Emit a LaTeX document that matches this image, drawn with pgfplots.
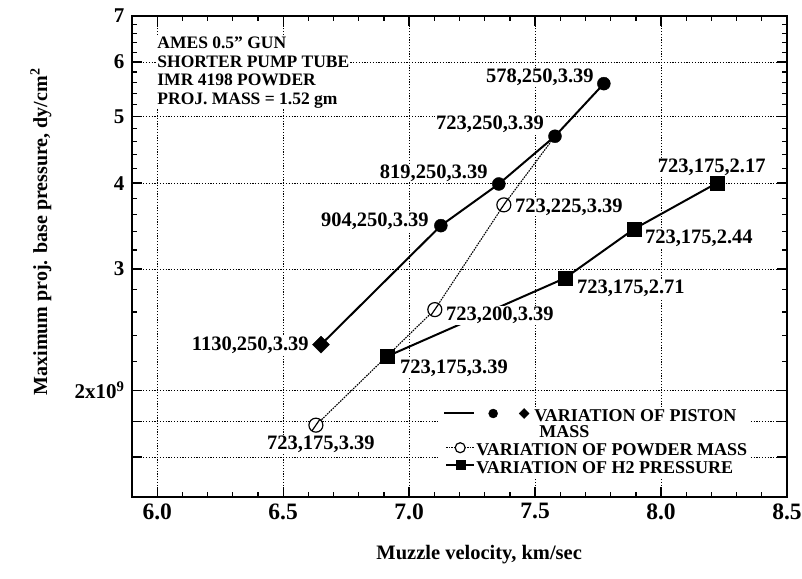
\documentclass[border=0pt]{standalone}
\usepackage{fontspec}
\setmainfont{Liberation Serif}
\newfontfamily\legbf{Liberation Serif Bold}
\usepackage{pgfplots}
\pgfplotsset{compat=1.18}
\pgfdeclareplotmark{oslash}{%
  \pgfpathcircle{\pgfpointorigin}{\pgfplotmarksize}%
  \pgfusepathqfillstroke
  \pgfpathmoveto{\pgfpoint{-0.55\pgfplotmarksize}{-0.8\pgfplotmarksize}}%
  \pgfpathlineto{\pgfpoint{0.55\pgfplotmarksize}{0.8\pgfplotmarksize}}%
  \pgfusepathqstroke}
\newcommand{\lbl}{\fontsize{20.5}{20.5}\selectfont\bfseries}
\begin{document}
\begin{tikzpicture}
\begin{axis}[
  scale only axis, width=655pt, height=481pt,
  xmin=5.9, xmax=8.5, ymode=log, ymin=1.4e9, ymax=7e9,
  xtick={6,6.5,7,7.5,8,8.5}, xticklabels={6.0,6.5,7.0,7.5,8.0,8.5},
  minor x tick num=4,
  ytick={2e9,3e9,4e9,5e9,6e9,7e9},
  yticklabels={2x10\textsuperscript{9},3,4,5,6,7},
  minor ytick={2.2e9,2.4e9,2.6e9,2.8e9,3.2e9,3.4e9,3.6e9,3.8e9,4.2e9,4.4e9,4.6e9,4.8e9,5.2e9,5.4e9,5.6e9,5.8e9,6.2e9,6.4e9,6.6e9,6.8e9},
  extra y ticks={1.6e9,1.8e9}, extra y tick labels={},
  extra y tick style={grid=major},
  grid=major,
  major grid style={black, line width=0.7pt, dash pattern=on 1.2pt off 1.6pt},
  axis line style={line width=2pt},
  major tick length=10pt, minor tick length=5pt,
  every tick/.style={black, line width=1.3pt},
  xticklabel style={font=\fontsize{23.5}{23.5}\selectfont\bfseries, yshift=-3pt},
  yticklabel style={font=\fontsize{21}{21}\selectfont\bfseries, xshift=-4pt},
  xlabel={Muzzle velocity, km/sec},
  ylabel={Maximum proj. base pressure, dy/cm\textsuperscript{2}},
  xlabel style={font=\fontsize{20.5}{20.5}\selectfont\bfseries, at={(axis description cs:0.530,-0.1206)}, anchor=center},
  ylabel style={font=\fontsize{20}{20}\selectfont\bfseries, at={(axis description cs:-0.139,0.551)}, anchor=center},
  legend style={at={(rel axis cs:0.4702,0.188)}, anchor=north west, draw=none, fill=white,
    inner xsep=3pt, inner ysep=3pt, row sep=2.6pt, column sep=1pt,
    font=\fontsize{18}{18}\legbf\selectfont,
    nodes={inner sep=0.1pt}, cells={anchor=west}},
  legend cell align=left,
]
% lines
\addplot[black, line width=2pt, forget plot] coordinates {(6.650,2.33e9) (7.126,3.47e9) (7.356,3.99e9) (7.579,4.68e9) (7.773,5.58e9)};
\addplot[black, line width=1.1pt, dash pattern=on 1.6pt off 1pt, forget plot] coordinates {(6.630,1.78e9) (7.102,2.62e9) (7.376,3.72e9) (7.579,4.68e9)};
\addplot[black, line width=2pt, forget plot] coordinates {(6.912,2.24e9) (7.618,2.91e9) (7.892,3.43e9) (8.221,4.00e9)};
% labels
\node[font=\lbl, fill=white, inner sep=1pt, anchor=east, xshift=-9pt, yshift=6pt] at (axis cs:7.773,5.58e9) {578,250,3.39};
\node[font=\lbl, fill=white, inner sep=1pt, anchor=east, xshift=-10pt, yshift=12pt] at (axis cs:7.579,4.68e9) {723,250,3.39};
\node[font=\lbl, fill=white, inner sep=1pt, anchor=east, xshift=-10pt, yshift=11pt] at (axis cs:7.356,3.99e9) {819,250,3.39};
\node[font=\lbl, fill=white, inner sep=1pt, anchor=east, xshift=-11pt, yshift=4pt] at (axis cs:7.126,3.47e9) {904,250,3.39};
\node[font=\lbl, fill=white, inner sep=1pt, anchor=east, xshift=-11pt, yshift=-1pt] at (axis cs:6.650,2.33e9) {1130,250,3.39};
\node[font=\lbl, fill=white, inner sep=1pt, anchor=west, xshift=10pt, yshift=-2pt] at (axis cs:7.376,3.72e9) {723,225,3.39};
\node[font=\lbl, fill=white, inner sep=1pt, anchor=west, xshift=10pt, yshift=-6pt] at (axis cs:7.102,2.62e9) {723,200,3.39};
\node[font=\lbl, fill=white, inner sep=1pt, anchor=west, xshift=12pt, yshift=-12pt] at (axis cs:6.912,2.24e9) {723,175,3.39};
\node[font=\lbl, fill=white, inner sep=1pt, anchor=west, xshift=11pt, yshift=-10pt] at (axis cs:7.618,2.91e9) {723,175,2.71};
\node[font=\lbl, fill=white, inner sep=1pt, anchor=west, xshift=10pt, yshift=-9pt] at (axis cs:7.892,3.43e9) {723,175,2.44};
\node[font=\lbl, fill=white, inner sep=1pt, anchor=center, xshift=-5pt, yshift=16pt] at (axis cs:8.221,4.00e9) {723,175,2.17};
\node[font=\lbl, fill=white, inner sep=1pt, anchor=center, xshift=5pt, yshift=-19pt] at (axis cs:6.630,1.78e9) {723,175,3.39};
% annotation
\node[anchor=north west, fill=white, inner sep=1pt, align=left, font=\fontsize{17.5}{18.5}\selectfont\bfseries] at (rel axis cs:0.037,0.958) {AMES 0.5" GUN\\SHORTER PUMP TUBE\\IMR 4198 POWDER\\PROJ. MASS = 1.52 gm};
% markers
\addplot[only marks, mark=*, mark size=6.5pt, black, forget plot] coordinates {(7.126,3.47e9) (7.356,3.99e9) (7.579,4.68e9) (7.773,5.58e9)};
\addplot[only marks, mark=square*, mark size=6pt, mark options={rotate=45}, black, forget plot] coordinates {(6.650,2.33e9)};
\addplot[only marks, mark=oslash, mark size=7pt, mark options={fill=white, line width=1.2pt}, black, forget plot] coordinates {(6.630,1.78e9) (7.102,2.62e9) (7.376,3.72e9)};
\addplot[only marks, mark=square*, mark size=7pt, black, forget plot] coordinates {(6.912,2.24e9) (7.618,2.91e9) (7.892,3.43e9) (8.221,4.00e9)};
% legend
\addlegendimage{legend image code/.code={
  \draw[line width=2pt] (0pt,3pt) -- (30pt,3pt);
  \fill[overlay] (49pt,3pt) circle (4.5pt);
  \fill[overlay] (80pt,8pt) -- (85pt,3pt) -- (80pt,-2pt) -- (75pt,3pt) -- cycle;
}}
\addlegendentry{\hspace*{58pt}VARIATION OF PISTON}
\addlegendimage{legend image code/.code={
  \path[draw=none, fill=none] (0pt,2pt) rectangle (30pt,4pt);
}}
\addlegendentry{\hspace*{63pt}MASS}
\addlegendimage{legend image code/.code={
  \draw[line width=1.1pt, dash pattern=on 1.6pt off 1pt] (2pt,3pt) -- (30pt,3pt);
  \draw[line width=1.2pt, fill=white] (16pt,3pt) circle (5pt);
}}
\addlegendentry{VARIATION OF POWDER MASS}
\addlegendimage{legend image code/.code={
  \draw[line width=2pt] (2pt,3pt) -- (30pt,3pt);
  \fill (12pt,-1.5pt) rectangle (21pt,7.5pt);
}}
\addlegendentry{VARIATION OF H2 PRESSURE}
\end{axis}
\pgfresetboundingbox
\path[use as bounding box] (current axis.south west) ++(-132pt,-81pt) rectangle ([shift={(15pt,16pt)}]current axis.north east);
\end{tikzpicture}
\end{document}
